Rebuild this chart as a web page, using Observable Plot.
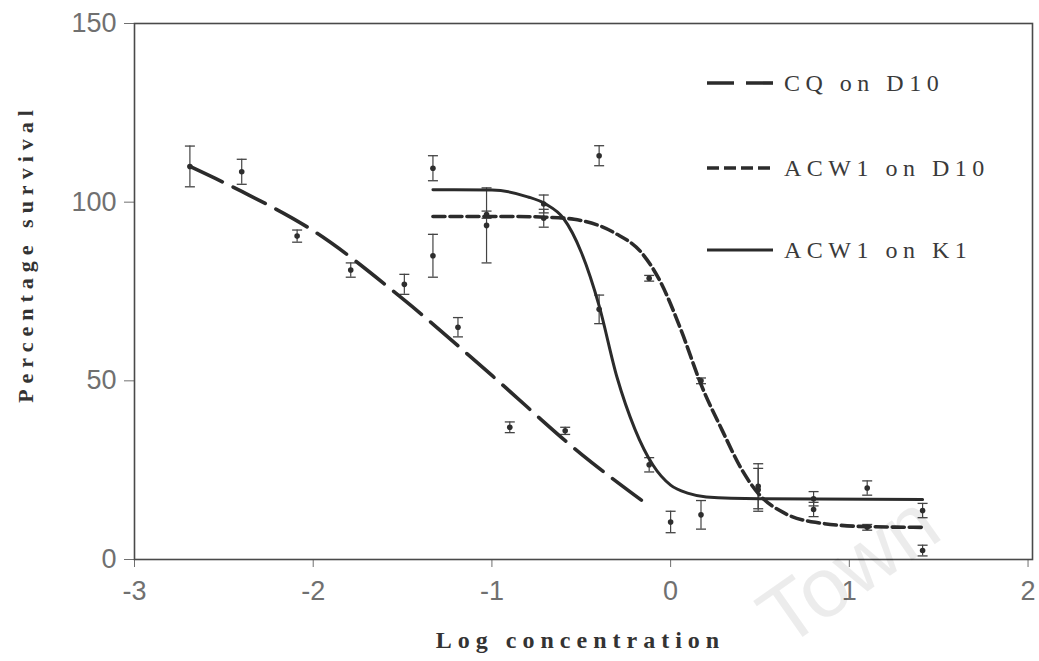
<!DOCTYPE html>
<html>
<head>
<meta charset="utf-8">
<script src="https://cdn.jsdelivr.net/npm/d3@7"></script>
<script src="https://cdn.jsdelivr.net/npm/@observablehq/plot@0.6"></script>
<style>
html, body { margin: 0; padding: 0; background: #fff; }
#wrap { position: relative; width: 1039px; height: 661px; overflow: hidden; }
#chart { position: absolute; left: 0; top: 0; }
#legend { position: absolute; left: 0; top: 0; font-family: "Liberation Serif", "DejaVu Serif", serif; font-size: 24px; color: #3a3a3a; letter-spacing: 5.5px; }
.row { position: absolute; display: flex; align-items: center; white-space: nowrap; height: 30px; }
.row svg { margin-right: 11px; }
#wm { position: absolute; left: 0; top: 0; font-family: "Liberation Sans", Arial, sans-serif; font-size: 84px; line-height: 70px; color: rgba(0,0,0,0.075); white-space: nowrap; transform-origin: 0 0; pointer-events: none; }
</style>
</head>
<body>
<div id="wrap">
  <div id="chart"></div>
  <div id="legend"></div>
  <div id="wm"></div>
</div>
<script>
// ---------- data ----------
const seriesNames = ["CQ on D10", "ACW1 on D10", "ACW1 on K1"];

// measured points (log concentration, % survival, error)
const cqX   = [-2.69, -2.40, -2.09, -1.79, -1.49, -1.19, -0.90, -0.59, 0.00];
const cqY   = [110.0, 108.5, 90.5, 81.0, 77.0, 65.0, 37.0, 36.0, 10.5];
const cqErr = [5.7, 3.5, 1.7, 2.0, 2.8, 2.7, 1.5, 1.0, 3.0];

const d10X   = [-1.33, -1.03, -0.71, -0.40, -0.12, 0.17, 0.49, 0.80, 1.10, 1.41];
const d10Y   = [85.0, 96.5, 95.5, 113.0, 78.7, 50.0, 19.5, 14.0, 9.0, 2.5];
const d10Err = [6.0, 1.0, 2.5, 2.8, 0.8, 0.8, 6.0, 2.0, 0.8, 1.5];

const k1X   = [-1.33, -1.03, -0.71, -0.40, -0.12, 0.17, 0.49, 0.80, 1.10, 1.41];
const k1Y   = [109.5, 93.5, 99.5, 70.0, 26.5, 12.5, 20.5, 17.0, 20.0, 13.7];
const k1Err = [3.5, 10.5, 2.5, 4.0, 2.0, 4.0, 6.3, 2.0, 2.0, 2.0];

// fitted curves
const cqFitX = [-2.69, -2.40, -2.00, -1.50, -1.00, -0.50, -0.12];
const cqFitY = [110.0, 103.0, 92.0, 73.0, 51.5, 29.5, 15.0];

const d10FitX = [-1.33, -0.90, -0.70, -0.54, -0.31, -0.16, -0.06, 0.06, 0.17, 0.29, 0.40, 0.49, 0.64, 0.81, 1.10, 1.41];
const d10FitY = [96.0, 96.0, 95.8, 95.2, 91.3, 85.7, 78.0, 64.0, 49.0, 36.0, 25.0, 18.5, 12.9, 10.4, 9.2, 9.0];

const k1FitX = [-1.33, -1.00, -0.80, -0.70, -0.60, -0.50, -0.40, -0.30, -0.20, -0.10, 0.00, 0.10, 0.20, 0.50, 1.41];
const k1FitY = [103.5, 103.4, 101.5, 99.5, 95.5, 86.0, 71.0, 51.0, 36.5, 26.5, 20.8, 18.5, 17.5, 17.0, 16.8];

const xTicks = [-3, -2, -1, 0, 1, 2];
const yTicks = [0, 50, 100, 150];
const xTitle = "Log concentration";
const yTitle = "Percentage survival";
const watermark = "Town";

// ---------- tables ----------
const ptX = [cqX, d10X, k1X], ptY = [cqY, d10Y, k1Y], ptE = [cqErr, d10Err, k1Err];
const points = [];
seriesNames.forEach((s, i) => ptX[i].forEach((x, j) => points.push({series: s, x, y: ptY[i][j], err: ptE[i][j]})));
const toFit = (xs, ys, s) => xs.map((x, j) => ({series: s, x, y: ys[j]}));
const cqFit = toFit(cqFitX, cqFitY, seriesNames[0]);
const d10Fit = toFit(d10FitX, d10FitY, seriesNames[1]);
const k1Fit = toFit(k1FitX, k1FitY, seriesNames[2]);

const ink = "#2b2b2b";
const dashes = ["36,12", "12,5", null];
const legendDashes = ["27,12", "12,5", null];

const cap = { draw(ctx) { ctx.moveTo(-5, 0); ctx.lineTo(5, 0); } };

const plot = Plot.plot({
  width: 1039,
  height: 661,
  marginLeft: 134,
  marginRight: 7,
  marginTop: 23,
  marginBottom: 102,
  style: { fontFamily: "'Liberation Sans', Arial, sans-serif", fontSize: "27px", color: "#707070", background: "transparent" },
  x: { domain: [-3, 2.025], ticks: xTicks, tickSize: 8, tickPadding: 13, label: null, tickFormat: d => String(d) },
  y: { domain: [0, 150], ticks: yTicks, tickSize: 10, tickPadding: 8, label: null, tickFormat: d => String(d) },
  marks: [
    Plot.frame({ stroke: "#4a4a4a", strokeWidth: 1.6 }),
    Plot.ruleX(points, { x: "x", y1: d => d.y - d.err, y2: d => d.y + d.err, stroke: "#444", strokeWidth: 1.2 }),
    Plot.dot(points, { x: "x", y: d => d.y + d.err, symbol: cap, stroke: "#444", strokeWidth: 1.3 }),
    Plot.dot(points, { x: "x", y: d => d.y - d.err, symbol: cap, stroke: "#444", strokeWidth: 1.3 }),
    Plot.dot(points, { x: "x", y: "y", r: 2.8, fill: "#2e2e2e", stroke: "none" }),
    Plot.line(cqFit, { x: "x", y: "y", curve: "monotone-x", stroke: ink, strokeWidth: 3.6, strokeDasharray: dashes[0] }),
    Plot.line(d10Fit, { x: "x", y: "y", curve: "monotone-x", stroke: ink, strokeWidth: 3.6, strokeDasharray: dashes[1] }),
    Plot.line(k1Fit, { x: "x", y: "y", curve: "monotone-x", stroke: ink, strokeWidth: 3.0 }),
    Plot.text([xTitle], { text: d => d, frameAnchor: "bottom", textAnchor: "middle", lineAnchor: "middle", dy: 81, dx: -3, fontFamily: "'Liberation Serif', serif", fontWeight: "bold", fontSize: 24, fill: "#333" }),
    Plot.text([yTitle], { text: d => d, frameAnchor: "left", textAnchor: "middle", lineAnchor: "middle", dx: -109, dy: -38, rotate: -90, fontFamily: "'Liberation Serif', serif", fontWeight: "bold", fontSize: 22, fill: "#333" })
  ]
});

d3.select(plot).selectAll("text")
  .filter(function () { return this.textContent === xTitle || this.textContent === yTitle; })
  .style("letter-spacing", "6px");

document.getElementById("chart").appendChild(plot);

// ---------- legend (inside plot, top right) ----------
const legendTops = [68, 153, 235];
const legend = d3.select("#legend");
seriesNames.forEach((s, i) => {
  const row = legend.append("div").attr("class", "row")
    .style("left", "707px").style("top", legendTops[i] + "px");
  const svg = row.append("svg").attr("width", 66).attr("height", 10);
  const ln = svg.append("line").attr("x1", 0).attr("x2", 66).attr("y1", 5).attr("y2", 5)
    .attr("stroke", ink).attr("stroke-width", i === 2 ? 3 : 3.6);
  if (legendDashes[i]) ln.attr("stroke-dasharray", legendDashes[i]);
  row.append("span").text(s);
});

// ---------- watermark ----------
d3.select("#wm").text(watermark)
  .style("transform", "translate(748px, 597px) rotate(-35deg)");
</script>
</body>
</html>
